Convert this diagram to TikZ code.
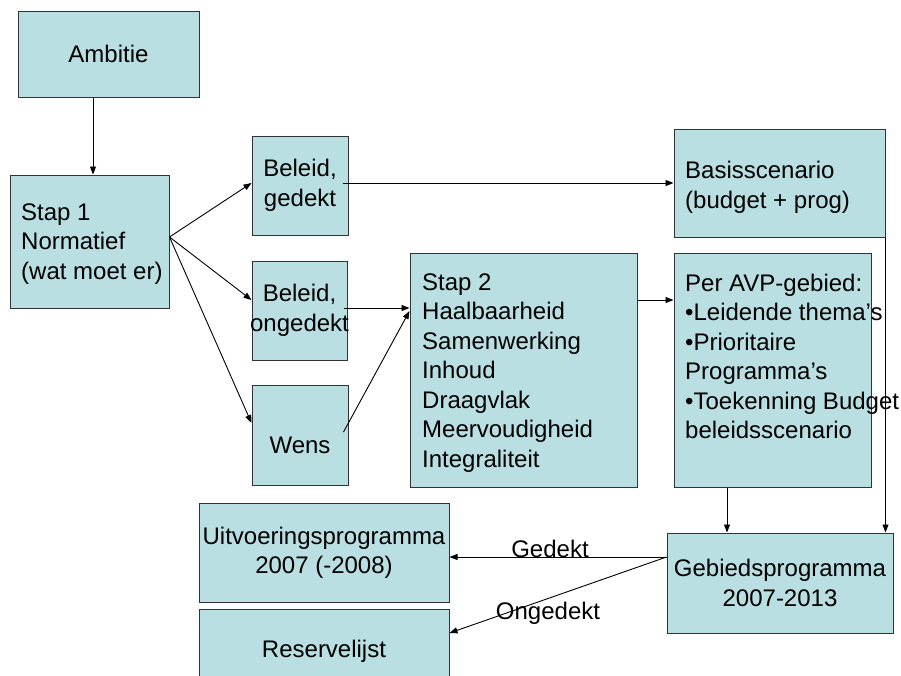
\documentclass[tikz,border=0pt]{standalone}
\usepackage{fontspec}
\setmainfont{Liberation Sans}
\usetikzlibrary{arrows.meta}
\definecolor{boxfill}{RGB}{186,223,226}
\begin{document}
\begin{tikzpicture}[x=1pt,y=-1pt,
  every node/.style={font=\fontsize{24}{29.5}\selectfont},
  box/.style={draw=black!80, line width=1pt, fill=boxfill, inner sep=0pt, align=center},
  txt/.style={inner sep=0pt, align=left},
  lbl/.style={inner sep=0pt, anchor=base},
  arr/.style={draw=black, line width=0.9pt, -{Triangle[length=8pt,width=6pt]}}]
\useasboundingbox (0,0) rectangle (901,675);
% boxes
\node[box, minimum width=181pt, minimum height=86pt] (amb) at (108.5,54) {Ambitie};
\node[box, minimum width=159pt, minimum height=133pt] (stap1) at (89.5,241.5) {};
\node[box, minimum width=96pt, minimum height=99pt] (bg) at (300,185.5) {Beleid,\\gedekt};
\node[box, minimum width=95pt, minimum height=99pt] (bo) at (299.5,310.5) {Beleid,\\\makebox[0pt][c]{ongedekt}};
\node[box, minimum width=96pt, minimum height=100pt] (wens) at (300,435) {};
\node[box, minimum width=227pt, minimum height=234pt] (stap2) at (523.5,370) {};
\node[box, minimum width=211pt, minimum height=108pt] (basis) at (779.5,183) {};
\node[box, minimum width=197pt, minimum height=234pt] (avp) at (772.5,370) {};
\node[box, minimum width=226pt, minimum height=100pt] (geb) at (780,583) {Gebiedsprogramma\\2007-2013};
\node[box, minimum width=250pt, minimum height=99pt] (uitv) at (324,553) {Uitvoeringsprogramma\\2007 (-2008)};
\node[box, minimum width=250pt, minimum height=84pt] (res) at (324,651) {Reservelijst};
% texts
\node[txt, anchor=north west] (stap1t) at (21,203.5) {Stap 1\\Normatief\\(wat moet er)};
\node[lbl] (wenst) at (300,453) {Wens};
\node[txt, anchor=north west] (stap2t) at (422,273.5) {Stap 2\\Haalbaarheid\\Samenwerking\\Inhoud\\Draagvlak\\Meervoudigheid\\Integraliteit};
\node[txt, anchor=north west] (basist) at (685,161) {Basisscenario\\(budget + prog)};
\node[txt, anchor=north west] (avpt) at (685,273.5) {Per AVP-gebied:\\•Leidende thema’s\\•Prioritaire\\Programma’s\\•Toekenning Budget\\beleidsscenario};
% connector points
\coordinate (ambout) at ([xshift=-15.5pt]amb.south);
\coordinate (s1out) at ([yshift=4.5pt]stap1.east);
\coordinate (bgout) at ([xshift=-6pt]bg.east);
\coordinate (boout) at ([xshift=-4pt,yshift=2.5pt]bo.east);
\coordinate (wout) at ([xshift=-5pt,yshift=3pt]wens.east);
\coordinate (s2out) at ([yshift=70pt]stap2.east);
\coordinate (avpout) at ([xshift=-45.5pt]avp.south);
\coordinate (gebout) at ([yshift=26pt]geb.west);
% connectors
\draw[arr] (ambout) -- (ambout |- stap1.north);
\draw[arr] (s1out) -- ([yshift=2.5pt]bg.west);
\draw[arr] (s1out) -- ([yshift=10.5pt]bo.west);
\draw[arr] (s1out) -- ([yshift=12pt]wens.west);
\draw[arr] (bgout |- basis.west) -- (basis.west);
\draw[arr] (boout) -- (stap2.west |- boout);
\draw[arr] (wout) -- ([yshift=59pt]stap2.west);
\draw[arr] (s2out) -- (avp.west |- s2out);
\draw[arr] (avpout) -- (avpout |- geb.north);
\draw[arr] (basis.south east) -- (basis.south east |- geb.north);
\draw[arr] (gebout) -- (uitv.east |- gebout);
\draw[arr] (gebout) -- ([yshift=18pt]res.east);
% labels
\node[lbl] (gedekt) at (550,557) {Gedekt};
\node[lbl] (ongedekt) at (548,619) {Ongedekt};
\end{tikzpicture}
\end{document}
